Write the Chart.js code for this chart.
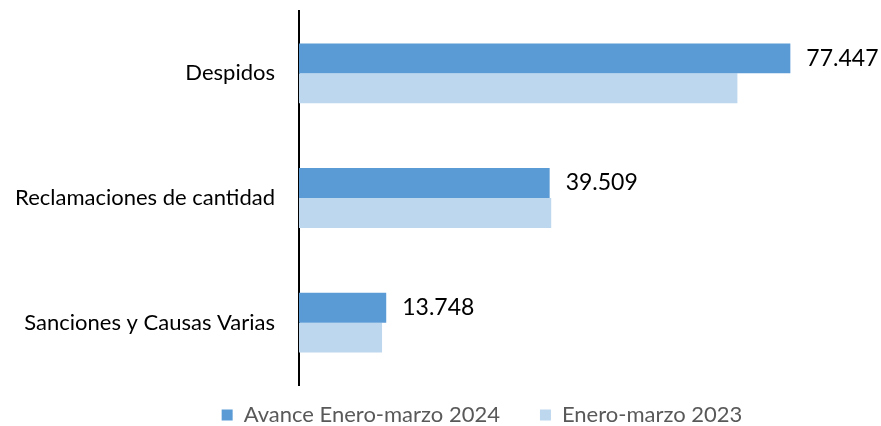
<!DOCTYPE html>
<html lang="es">
  <head>
    <meta charset="UTF-8" />
    <title>Asuntos por tipo</title>
    <script src="https://cdn.jsdelivr.net/npm/chart.js"></script>
    <style>
      body {
        margin: 0;
        background: #fff;
      }
      .chart-container {
        width: 881px;
        height: 426px;
      }
    </style>
  </head>
  <body>
    <div class="chart-container">
      <canvas id="grafico"></canvas>
    </div>

    <script>
      // Datos
      const categorias = [
        "Despidos",
        "Reclamaciones de cantidad",
        "Sanciones y Causas Varias",
      ];
      const avance2024 = [77447, 39509, 13748];
      const enero2023 = [69100, 39750, 13090];
      const series = ["Avance Enero-marzo 2024", "Enero-marzo 2023"];

      const fuente = "Lato, 'Open Sans', sans-serif";

      // Formato con punto de miles
      function formato(v) {
        return String(v).replace(/\B(?=(\d{3})+(?!\d))/g, ".");
      }

      // Etiquetas de valor solo para la serie 2024
      const etiquetas = {
        id: "etiquetas",
        afterDatasetsDraw(chart) {
          const ctx = chart.ctx;
          const meta = chart.getDatasetMeta(0);
          ctx.save();
          ctx.font = "23px " + fuente;
          ctx.fillStyle = "#000";
          ctx.textAlign = "left";
          ctx.textBaseline = "middle";
          meta.data.forEach((bar, i) => {
            ctx.fillText(formato(avance2024[i]), bar.x + 16, bar.y);
          });
          ctx.restore();
        },
      };

      // Leyenda: alto fijo y posicion ajustada
      const ajusteLeyenda = {
        id: "ajusteLeyenda",
        beforeLayout(chart) {
          const leyenda = chart.legend;
          if (!leyenda || leyenda._ajustada) return;
          leyenda._ajustada = true;
          const fitOriginal = leyenda.fit;
          leyenda.fit = function () {
            fitOriginal.call(this);
            this.height = 41;
          };
        },
        afterLayout(chart) {
          const leyenda = chart.legend;
          if (!leyenda) return;
          leyenda.top -= 21;
          leyenda.left += 47;
          leyenda.right += 47;
        },
      };

      new Chart(document.getElementById("grafico").getContext("2d"), {
        type: "bar",
        data: {
          labels: categorias,
          datasets: [
            {
              label: series[0],
              data: avance2024,
              backgroundColor: "#5B9BD5",
              categoryPercentage: 0.48,
              barPercentage: 1,
            },
            {
              label: series[1],
              data: enero2023,
              backgroundColor: "#BDD7EE",
              categoryPercentage: 0.48,
              barPercentage: 1,
            },
          ],
        },
        options: {
          indexAxis: "y",
          responsive: true,
          maintainAspectRatio: false,
          animation: false,
          layout: {
            padding: { top: 11, right: 11, left: 0, bottom: 0 },
          },
          scales: {
            x: {
              display: false,
              min: 0,
              max: 90000,
            },
            y: {
              grid: { display: false, drawTicks: false },
              border: { display: true, color: "#000", width: 2 },
              ticks: {
                color: "#000",
                padding: 24,
                font: { family: fuente, size: 22 },
              },
              afterFit(scale) {
                scale.width = 299;
                scale.paddingTop = 0;
                scale.paddingBottom = 0;
              },
            },
          },
          plugins: {
            legend: {
              position: "bottom",
              labels: {
                boxWidth: 11,
                boxHeight: 11,
                padding: 40,
                color: "#595959",
                font: { family: fuente, size: 22 },
              },
            },
            tooltip: { enabled: false },
          },
        },
        plugins: [etiquetas, ajusteLeyenda],
      });
    </script>
  </body>
</html>
